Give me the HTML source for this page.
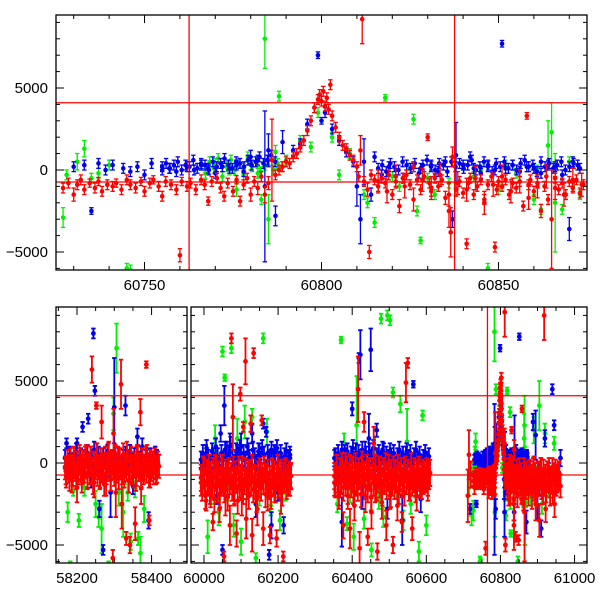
<!DOCTYPE html>
<html><head><meta charset="utf-8"><style>
html,body{margin:0;padding:0;background:#fff;width:600px;height:600px;overflow:hidden}
svg{display:block}
text{font-family:"Liberation Sans",sans-serif;font-size:15px;fill:#000}
</style></head><body>
<svg id="chart" width="600" height="600" viewBox="0 0 600 600"></svg>
<script>
const redPts=[[60727,-1100,300],[60728.5,-800,300],[60730,-1500,400],[60731,-900,300],[60732,-600,300],[60733,-1200,300],[60734.5,-800,250],[60736,-1100,300],[60737,-700,250],[60738,-1300,300],[60739.5,-900,300],[60741,-1000,300],[60742,-800,250],[60743.5,-1200,300],[60745,-600,300],[60746,-900,300],[60747.5,-1100,300],[60749,-700,250],[60750,-1300,300],[60751.5,-800,300],[60752.5,-600,250],[60754,-1000,300],[60755,-1600,300],[60756,-700,300],[60757.5,-900,300],[60759,-1200,300],[60760,-5200,400],[60760.5,-700,250],[60762,-1000,300],[60763,-800,300],[60764.5,-1200,300],[60766,-600,300],[60767,-900,300],[60768,-1900,250],[60769,-700,300],[60770.5,-500,300],[60771.5,-1100,300],[60772.5,-1600,300],[60773.5,-800,300],[60775,-1300,300],[60776,-600,250],[60777,-1900,300],[60778,-900,300],[60779,-500,300],[60780,-1500,400],[60781,-700,300],[60782,-1100,400],[60783,-400,300],[60784,-1500,500],[60785,-800,400],[60786,600,2500],[60787,-300,300],[60788,0,300],[60789,200,300],[60790,500,300],[60791,400,300],[60792,800,300],[60793,1000,300],[60794,1400,300],[60795,1800,300],[60796,2400,300],[60797,3000,300],[60798,3800,300],[60799,4300,300],[60799.5,4600,300],[60800,4200,300],[60800.5,4800,300],[60801,3900,300],[60801.5,4400,300],[60802,3700,300],[60802.5,5200,300],[60803,3300,300],[60804,2600,300],[60805,2000,300],[60806,1500,300],[60807,1300,300],[60808,900,300],[60809,600,300],[60810,200,300],[60810.5,-400,300],[60811,1200,900],[60811.5,9200,1500],[60812,-700,300],[60813,-1200,400],[60813.5,-5000,400],[60814,-300,300],[60815,-600,300],[60816,-1000,300],[60817,-500,300],[60818,-800,300],[60819,-300,300],[60820,-1500,300],[60821,-700,300],[60822,-2200,400],[60823,-500,300],[60824,-300,300],[60825,-900,300],[60826,200,300],[60827,-600,300],[60828,-1200,300],[60829,-400,300],[60830,2000,200],[60830.5,-800,300],[60831,-1300,300],[60832,-500,300],[60833,-1000,300],[60834,-600,300],[60835,-1700,400],[60836,-2500,1000],[60836.5,-3800,1500],[60837,800,600],[60838,-1200,400],[60839,-700,300],[60840,-1400,300],[60841,-4500,300],[60841.5,-800,300],[60842,-500,300],[60843,-1500,300],[60844,-1000,300],[60845,-600,300],[60846,-1800,300],[60847,-900,300],[60848,-400,300],[60849,-4700,300],[60849.5,-1200,300],[60850,-700,300],[60851,-1000,300],[60852,-600,300],[60853,-1500,300],[60854,-800,300],[60855,-1100,300],[60856,-700,300],[60857,-2200,300],[60858,3300,200],[60858.5,-900,300],[60859,-600,300],[60860,-1300,300],[60861,-800,300],[60862,-2500,400],[60863,-1000,300],[60864,-1800,300],[60865,-3000,3000],[60866,-500,300],[60867,-1200,300],[60868,-800,300],[60869,-1500,300],[60870,-700,300],[60871,-1100,300],[60872,-600,300],[60873,-1400,300],[60874,-900,300],
[58170,-500,800],[58178,-200,700],[58186,-900,900],[58194,0,700],[58200,-1500,900],[58207,300,800],[58214,-400,900],[58222,200,800],[58228,-700,900],[58236,100,900],[58240,5700,800],[58246,-1200,900],[58252,3500,200],[58254,200,1000],[58262,-600,900],[58266,2500,1000],[58270,-300,800],[58278,-1000,1000],[58284,300,900],[58290,-500,1200],[58296,-5800,500],[58298,1800,1500],[58304,-1800,1500],[58310,0,1000],[58318,4800,1500],[58320,-2500,1500],[58326,-300,900],[58332,-4600,400],[58334,500,800],[58342,-5000,500],[58348,-400,900],[58356,-3700,1000],[58358,-800,900],[58360,200,800],[58370,3100,800],[58372,-1500,1000],[58378,-300,800],[58386,6000,200],[58388,300,800],[58394,-3500,300],[58396,-700,800],[58404,-100,800],[58412,-500,800],[58418,-200,700],
[59992,-1200,800],[60000,-600,900],[60006,-2300,600],[60012,-900,1000],[60018,-1800,900],[60024,-3600,500],[60030,-500,1000],[60036,-1400,1000],[60042,-2800,800],[60048,-700,1000],[60054,-5700,300],[60058,-2000,1200],[60064,-1000,1000],[60070,-3800,1200],[60074,7600,300],[60078,2800,2000],[60082,-1500,1000],[60088,-4300,800],[60094,-600,1000],[60098,4200,400],[60102,-2200,1000],[60106,2200,300],[60112,6200,1400],[60114,-3400,1200],[60120,-800,1000],[60126,2400,500],[60130,-4400,1000],[60134,6700,300],[60138,-1200,1000],[60144,-2800,1000],[60150,-600,900],[60156,2600,300],[60160,-4000,1000],[60166,-1000,900],[60172,-2000,900],[60178,-4400,500],[60184,-700,900],[60190,-1500,900],[60196,-4600,500],[60202,-800,900],[60208,-2200,900],[60214,-5700,300],[60220,-600,800],[60228,-1200,800],[60234,-800,700],
[60352,-1200,800],[60358,-400,900],[60364,-2000,800],[60370,-800,1000],[60376,-3800,800],[60382,-300,900],[60388,-1500,1000],[60394,-4000,1200],[60400,-600,1000],[60406,-2600,900],[60412,-1000,1000],[60416,4500,2000],[60420,-5200,1000],[60426,-300,1000],[60432,2500,600],[60436,-2000,1000],[60442,-4500,500],[60446,-700,1000],[60452,-3000,1000],[60458,1200,1000],[60462,-1400,1000],[60468,-5400,500],[60474,-500,900],[60480,-2400,1000],[60486,-800,900],[60492,-3800,900],[60498,-400,900],[60504,-1800,900],[60510,-5000,500],[60516,-700,900],[60522,-2600,900],[60528,-1000,900],[60534,-3600,600],[60540,-600,900],[60545,4900,1200],[60550,6100,300],[60556,-1400,900],[60562,-4000,700],[60568,-800,900],[60574,-2000,900],[60580,-600,800],[60588,-1400,800],[60596,-900,800],[60604,-1500,800],[60608,-600,800],
[60712,-2000,1600],[60715,500,1500],[60720,-700,800],[60880,-800,900],[60885,-1800,1000],[60890,-500,900],[60895,-2500,1000],[60900,-900,900],[60905,-3500,1000],[60910,-600,900],[60915,-1600,900],[60918,9000,1500],[60922,-2800,800],[60928,-800,900],[60934,-1800,800],[60940,-500,800],[60946,-2500,800],[60952,-1000,800],[60958,-800,800],[60962,-1400,700]];
const bluePts=[[60730,200,300],[60733,300,300],[60735,-2500,200],[60737,400,300],[60739,0,300],[60741,300,300],[60744,100,300],[60746,-100,300],[60748,200,300],[60750,-300,300],[60752,400,300],[60755,0,300],[60757,100,300],[60759,-100,300],[60762,200,300],[60764,0,300],[60766,300,300],[60768,100,300],[60770,-200,300],[60772,200,300],[60774,100,300],[60776,300,300],[60778,-100,300],[60780,800,400],[60782,600,300],[60784,-1000,4600],[60785,1200,1000],[60787,-2800,600],[60789,1700,700],[60792,1200,300],[60794,1600,300],[60796,2800,300],[60798,3800,300],[60799,7000,200],[60800,3000,200],[60801,3500,300],[60803,2500,300],[60805,1800,300],[60807,1100,300],[60809,500,300],[60810,-1000,1200],[60811,-3000,1500],[60812,500,1400],[60814,-1500,400],[60815,800,300],[60817,-300,300],[60819,200,300],[60821,0,300],[60823,-500,300],[60826,200,300],[60828,100,300],[60831,300,300],[60833,-100,300],[60835,500,300],[60837,-3000,500],[60838,900,2000],[60840,300,300],[60842,800,300],[60843,100,300],[60845,-200,300],[60847,200,300],[60849,0,300],[60851,7700,200],[60852,100,300],[60854,300,300],[60856,-100,300],[60858,200,300],[60860,100,300],[60862,-200,300],[60864,300,300],[60866,200,300],[60868,-300,300],[60870,-3600,700],[60871,500,300],[60873,100,300],
[58172,1200,300],[58180,-100,500],[58190,-300,600],[58200,1200,300],[58215,2200,300],[58230,2700,300],[58238,-1200,300],[58244,7900,300],[58248,4400,300],[58260,-2800,500],[58270,-5300,300],[58280,0,800],[58290,-1800,1500],[58300,3400,3000],[58312,-400,600],[58330,3500,600],[58340,200,500],[58350,-1400,500],[58362,1600,500],[58375,1000,500],[58392,-3500,500],[58400,-200,500],[58410,500,500],
[59995,0,500],[60005,500,600],[60015,-300,700],[60025,300,600],[60035,-2000,500],[60045,1800,500],[60050,-5300,300],[60055,3500,1200],[60062,500,800],[60070,1000,800],[60080,-1500,800],[60090,300,800],[60100,1000,800],[60110,-300,800],[60120,600,600],[60130,1800,600],[60140,-2500,800],[60150,600,600],[60160,2400,300],[60168,1900,300],[60176,-5600,300],[60182,-3800,800],[60190,600,500],[60200,-1800,500],[60215,-3800,500],[60225,-300,500],[60232,300,500],
[60355,300,600],[60365,-400,600],[60372,-3600,1500],[60380,500,600],[60390,-800,600],[60400,3300,400],[60405,-1200,600],[60410,600,600],[60418,6400,300],[60422,6600,1500],[60428,-2000,800],[60435,700,600],[60445,1500,1500],[60450,6900,1300],[60458,200,600],[60466,2000,400],[60475,-500,600],[60485,600,600],[60495,-2800,600],[60505,400,500],[60515,-500,500],[60525,200,500],[60535,-3500,1500],[60545,500,500],[60555,-1000,500],[60565,4800,200],[60575,-1500,500],[60585,-2200,800],[60595,200,500],[60605,-500,500],
[60718,-2800,300],[60880,-500,600],[60888,2500,500],[60895,1700,1500],[60900,-2600,800],[60905,-1000,1000],[60910,-4000,500],[60920,1500,500],[60930,-600,600],[60940,4500,300],[60945,2300,300],[60955,-1000,500],[60962,300,500]];
const greenPts=[[60727,-2900,600],[60728,-300,300],[60731,500,500],[60733,1300,500],[60735,-500,300],[60737,-200,300],[60740,300,300],[60745,-6000,300],[60746,-6100,300],[60770,400,300],[60772,200,300],[60774,0,300],[60776,-1200,400],[60778,100,300],[60780,300,300],[60782,-200,300],[60783,-1800,300],[60784,8000,1800],[60785,-3000,1500],[60787,1100,400],[60788,4500,300],[60790,600,300],[60794,1800,300],[60797,1400,300],[60799,3500,300],[60803,2000,300],[60805,-300,300],[60808,1000,300],[60812,-1500,300],[60813,-2000,300],[60815,-3200,300],[60818,4400,200],[60820,-400,300],[60822,-1000,300],[60825,100,300],[60826,3100,300],[60827,-2500,300],[60828,-4300,200],[60830,-500,300],[60832,-1500,300],[60836,-800,300],[60840,300,300],[60843,-400,300],[60845,0,300],[60847,-6000,300],[60850,-1200,300],[60852,300,300],[60855,-200,300],[60858,200,300],[60860,-1800,300],[60861,0,300],[60862,-2400,300],[60864,1500,1500],[60865,2300,1800],[60866,-2000,3000],[60868,-2400,300],[60870,500,300],[60871,-1000,300],[60873,-1500,300],
[58175,-3000,600],[58182,-6300,300],[58190,-1700,300],[58205,-3500,400],[58220,-1500,500],[58250,-2500,800],[58258,-3300,600],[58266,-4000,1500],[58285,-6300,300],[58298,3000,1000],[58306,7000,1500],[58312,-1800,800],[58324,-3000,1500],[58336,-1800,500],[58344,-4800,500],[58356,-1600,500],[58364,-4600,400],[58370,-5500,1000],[58380,-2800,800],
[59998,-800,600],[60010,-4500,1000],[60020,-2000,500],[60030,1500,800],[60040,-3000,800],[60050,6800,300],[60056,5200,200],[60064,-1500,800],[60074,7000,300],[60080,-3800,700],[60090,1500,1200],[60100,-4800,800],[60110,2500,1000],[60122,-1000,800],[60130,2800,500],[60140,-5800,300],[60150,-2000,600],[60160,7600,300],[60170,1900,800],[60180,-2600,600],[60190,-1200,600],[60205,-3500,600],[60220,-1800,500],
[60360,-2500,500],[60370,7500,200],[60378,1200,600],[60386,-3700,400],[60394,-1800,600],[60404,-4500,800],[60412,2300,3000],[60420,-200,600],[60432,-3400,600],[60442,-1000,600],[60452,-5300,400],[60462,800,800],[60472,-2200,600],[60478,8800,300],[60484,-3300,600],[60495,9000,300],[60502,8700,300],[60510,4300,300],[60520,-1500,600],[60530,3600,500],[60538,-3500,600],[60548,1300,2000],[60558,-2500,600],[60570,-1500,600],[60580,-5400,600],[60590,2900,300],[60600,-3800,600],
[60722,-3200,600],[60716,-1500,500],[60882,-2000,600],[60890,2000,800],[60898,-1000,800],[60905,3500,1500],[60912,-2500,600],[60920,1800,600],[60930,-1500,600],[60945,1200,400],[60955,-800,500]];

// dense regularly-sampled cores: start time, cadence (days), error, and observed values
const redCoreC1Y=[-300,-800,100,-500,-1000,200,-200,-700,300,-400,-900,0,-600,200,-300,-1100,100,-500,-200,400,-800,-100,-600,300,-400,-1200,0,-300,500,-700,-200,-900,200,-500,-100,-1300,300,-600,-200,600,-400,-1000,100,-300,-700,400,-500,-100,-900,200,-300,-600,500,-800,-200,-400,100,-1100,-300,300,-500,-800,0,-200,-700,400,-400,-100,-900,200,-600,-300,300,-500,-100,-800,100,-400,-200,-600,200,-300,-500,0,-200];
const redCoreC2Y=[-900,-1500,-400,-1100,-2000,-600,-1200,-300,-1700,-800,-1300,-500,-2200,-900,-400,-1400,-700,-1900,-1000,-300,-1200,-1600,-600,-900,-2100,-500,-1100,-800,-1500,-400,-1800,-700,-1000,-2300,-600,-1300,-900,-400,-1700,-1100,-500,-1400,-800,-2000,-600,-1200,-300,-1600,-900,-1000,-2200,-700,-1300,-500,-1500,-800,-1100,-400,-1900,-900,-600,-1400,-1000,-2000,-500,-1200,-700,-1600,-900,-300,-1300,-1100,-600,-1800,-800,-1000,-500,-1400,-900,-700,-1200,-800];
const redCoreC3Y=[-800,-1300,-300,-1000,-1800,-500,-1100,-200,-1500,-700,-1200,-400,-2000,-800,-300,-1300,-600,-1700,-900,-200,-1100,-1500,-500,-800,-1900,-400,-1000,-700,-1400,-300,-1600,-600,-900,-2100,-500,-1200,-800,-300,-1500,-1000,-400,-1300,-700,-1800,-500,-1100,-200,-1400,-800,-900,-2000,-600,-1200,-400,-1400,-700,-1000,-300,-1700,-800,-500,-1300,-900,-1800,-400,-1100,-600,-1500,-800,-200,-1200,-1000,-500,-1600,-700,-900,-400,-1300,-800,-600,-1100,-700,-1000,-500,-1200,-800,-600];
const redCoreC4Y=[-700,-1300,-400,-1000,-1800,-600,-1100,-300,-1500,-800,-1200,-500,-2000,-900,-400,-1300,-700,-1700,-1000,-400,-1100,-1500,-600,-900,-1900,-500,-1000,-800,-1400,-400,-1600,-700,-1000,-2000,-600,-1200,-900,-400,-1500,-1000,-500,-1300,-800,-1700,-600,-1100,-400,-1400,-900,-1000,-1800,-700,-1200,-500,-1300,-800,-1000,-600];
const blueCoreC1Y=[300,-200,500,100,-400,700,0,400,-300,200,600,-100,300,800,0,500,-200,400,100,600,-300,200,700,0,400,-100,300,500,-200,600,100,400,-300,200,500,0,300,-100,400,200,0,300];
const blueCoreC2Y=[200,600,-100,900,300,-300,700,100,1000,400,-200,600,200,800,-100,500,1100,300,0,700,400,900,-200,600,200,1000,300,-100,800,400,0,700,200,900,500,-300,600,300,800,100,500,900,200,600,-100,400,700,300,500];
const blueCoreC3Y=[300,-100,600,100,800,-200,400,700,0,500,900,200,-100,600,300,800,100,500,-200,700,300,900,0,400,600,200,800,-100,500,300,700,100,600,-200,400,800,200,500,0,700,300,600,100,400,800,200,500,0,300,600,200,400];
const blueCoreTopY=[200,400,100,300,500,0,300,200,600,100,400,300,0,500,200,400,700,300,100,500,400,200,600,300,500,800,400,600,900,500];
const blueCoreTop2Y=[100,300,-100,400,200,0,500,300,100,400,-200,300,600,200,0,400,300,-100,500,200,400,100,300,600,0,200,500,300,-100,400,200,500,100,300,0,400,600,200,300,-100,500,200,400,100,300,500,0,200,400,300];
const greenCoreTopY=[300,-200,500,100,700,-400,200,600,0,400,-300,800,200,500,-100,300,600,0,400,200];
const cores=[
 {pts:redPts,t0:58168,step:3,e:700,ys:redCoreC1Y},
 {pts:redPts,t0:59992,step:3,e:800,ys:redCoreC2Y},
 {pts:redPts,t0:60352,step:3,e:800,ys:redCoreC3Y},
 {pts:redPts,t0:60816,step:2.5,e:700,ys:redCoreC4Y},
 {pts:bluePts,t0:58168,step:6,e:500,ys:blueCoreC1Y},
 {pts:bluePts,t0:59992,step:5,e:500,ys:blueCoreC2Y},
 {pts:bluePts,t0:60352,step:5,e:500,ys:blueCoreC3Y},
 {pts:bluePts,t0:60755,step:1.1,e:300,ys:blueCoreTopY},
 {pts:bluePts,t0:60816,step:1.15,e:300,ys:blueCoreTop2Y},
 {pts:greenPts,t0:60766,step:1.2,e:300,ys:greenCoreTopY}
];
const hLines=[4100,-730];
const vLinesTop=[60762.6,60837.6];
const vLinesBottom=[60765];
const yTickLabels=[-5000,0,5000];
const topXTickLabels=[60750,60800,60850];

cores.forEach(c=>c.ys.forEach((y,i)=>c.pts.push([c.t0+i*c.step,y,c.e])));
// draw cores first (behind) for red: reorder so core points render before outliers
const NS="http://www.w3.org/2000/svg";
const svg=document.getElementById('chart');
function mk(tag,attrs,parent){const e=document.createElementNS(NS,tag);for(const k in attrs)e.setAttribute(k,attrs[k]);(parent||svg).appendChild(e);return e;}
const series=[{pts:greenPts,c:'#00ee00',n:'green'},{pts:bluePts,c:'#0000ee',n:'blue'},{pts:redPts,c:'#ff0000',n:'red'}];

const panels=[
 {name:'top-panel',y0:15,y1:270,vmin:-6098,vmax:9451,sw:1.3,r:2.3,segs:[{x0:56,x1:587,t0:60725,t1:60875,major:50,minor:10,labels:topXTickLabels}],vl:vLinesTop},
 {name:'bottom-panel',y0:307,y1:563,vmin:-6098,vmax:9512,sw:1.8,r:2.4,segs:[{x0:56,x1:187,t0:58143.7,t1:58495,major:200,minor:50,labels:[58200,58400]},{x0:191,x1:587,t0:59965,t1:61033.6,major:200,minor:50,labels:[60000,60200,60400,60600,60800,61000]}],vl:vLinesBottom}
];
panels.forEach((p,pi)=>{
 const yS=v=>p.y1-(v-p.vmin)/(p.vmax-p.vmin)*(p.y1-p.y0);
 const g=mk('g',{});
 
 
 p.segs.forEach((s,si)=>{
  const xS=t=>s.x0+(t-s.t0)/(s.t1-s.t0)*(s.x1-s.x0);
  const cid='clip'+pi+'_'+si;
  const cp=mk('clipPath',{id:cid},g);mk('rect',{x:s.x0,y:p.y0,width:s.x1-s.x0,height:p.y1-p.y0},cp);
  const plot=mk('g',{'clip-path':'url(#'+cid+')'},g);
  
  
  series.forEach(se=>{
   const sg=mk('g',{stroke:se.c,fill:se.c,'stroke-width':p.sw},plot);
   
   
   se.pts.forEach(d=>{
    if(d[0]<s.t0-5||d[0]>s.t1+5)return;
    const x=xS(d[0]),y=yS(d[1]),ya=yS(d[1]+d[2]),yb=yS(d[1]-d[2]);
    mk('line',{x1:x,x2:x,y1:ya,y2:yb},sg);
    mk('line',{x1:x-2.2,x2:x+2.2,y1:ya,y2:ya},sg);
    mk('line',{x1:x-2.2,x2:x+2.2,y1:yb,y2:yb},sg);
    const c=mk('circle',{cx:x,cy:y,r:p.r,stroke:'none'},sg);
    
    
   });
  });
  hLines.forEach(v=>{const l=mk('line',{x1:s.x0,x2:s.x1,y1:yS(v),y2:yS(v),stroke:'#ff0000','stroke-width':1.3},plot);
   
   });
  p.vl.forEach(v=>{const l=mk('line',{x1:xS(v),x2:xS(v),y1:p.y0,y2:p.y1,stroke:'#ff0000','stroke-width':1.3},plot);
   
   });
  const fr=mk('rect',{x:s.x0,y:p.y0,width:s.x1-s.x0,height:p.y1-p.y0,fill:'none',stroke:'#000','stroke-width':1.3},g);
  
  
  for(let t=Math.ceil(s.t0/s.minor)*s.minor;t<=s.t1;t+=s.minor){
   const x=xS(t),L=(t%s.major===0)?8:4;
   mk('line',{x1:x,x2:x,y1:p.y1,y2:p.y1-L,stroke:'#000'},g);
   mk('line',{x1:x,x2:x,y1:p.y0,y2:p.y0+L,stroke:'#000'},g);
  }
  s.labels.forEach(t=>{const tx=mk('text',{x:xS(t),y:p.y1+20,'text-anchor':'middle'},g);tx.textContent=t;
   
   });
  for(let v=-6000;v<=9000;v+=1000){
   const y=yS(v),L=(v%5000===0)?8:4;
   mk('line',{x1:s.x0,x2:s.x0+L,y1:y,y2:y,stroke:'#000'},g);
   mk('line',{x1:s.x1,x2:s.x1-L,y1:y,y2:y,stroke:'#000'},g);
  }
  if(si===0){
   yTickLabels.forEach(v=>{const tx=mk('text',{x:s.x0-8,y:yS(v)+5,'text-anchor':'end'},g);tx.textContent=v<0?'\u2212'+Math.abs(v):v;
    
    });
  }
 });
});
</script>
</body></html>
